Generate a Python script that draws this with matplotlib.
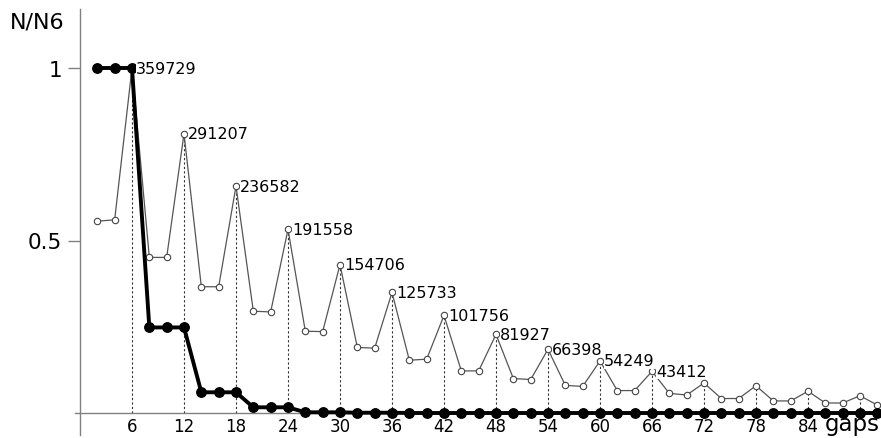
import matplotlib
matplotlib.use("Agg")
import matplotlib.pyplot as plt

plt.rcParams['font.family'] = ['DejaVu Sans']

gaps = [2, 4, 6, 8, 10, 12, 14, 16, 18, 20, 22, 24, 26, 28, 30, 32, 34, 36, 38, 40,
        42, 44, 46, 48, 50, 52, 54, 56, 58, 60, 62, 64, 66, 68, 70, 72, 74, 76, 78, 80,
        82, 84, 86, 88, 90, 92]

thin_ratio = [0.556, 0.560, 1.0, 0.451, 0.451, 0.8095, 0.366, 0.366, 0.6577, 0.295,
              0.293, 0.5325, 0.237, 0.236, 0.4301, 0.190, 0.188, 0.3495, 0.153, 0.156,
              0.2829, 0.122, 0.122, 0.2277, 0.100, 0.097, 0.1846, 0.080, 0.077, 0.1508,
              0.065, 0.065, 0.1207, 0.057, 0.052, 0.087, 0.042, 0.042, 0.079, 0.035,
              0.035, 0.063, 0.029, 0.029, 0.050, 0.023]

thick_ratio = [1.0, 1.0, 1.0, 0.248, 0.248, 0.248, 0.060, 0.060, 0.060, 0.0165,
               0.0165, 0.0165, 0.002, 0.002, 0.002, 0.0008, 0.0008, 0.0008, 0.0, 0.0,
               0.0, 0.0, 0.0, 0.0, 0.0, 0.0, 0.0, 0.0, 0.0, 0.0,
               0.0, 0.0, 0.0, 0.0, 0.0, 0.0, 0.0, 0.0, 0.0, 0.0,
               0.0, 0.0, 0.0, 0.0, 0.0, 0.0]

peak_gaps = [6, 12, 18, 24, 30, 36, 42, 48, 54, 60, 66]
peak_labels = ["359729", "291207", "236582", "191558", "154706", "125733",
               "101756", "81927", "66398", "54249", "43412"]

xtick_vals = [6, 12, 18, 24, 30, 36, 42, 48, 54, 60, 66, 72, 78, 84]
ytick_vals = [0.5, 1]
ytick_labels = ["0.5", "1"]

W, H = 881, 439
fig = plt.figure(figsize=(W / 100, H / 100), dpi=100)
ax = fig.add_axes([80 / W, (H - 414) / H, (W - 80) / W, (414 - 10) / H])
ax.set_xlim(0, 801 / (676 / 78))
ax.set_ylim(0, 404 / 345)
for s in ax.spines.values():
    s.set_visible(False)

axis_col = '#808080'
# axes lines
ax.plot([-0.6, 92.5], [0, 0], color=axis_col, lw=1.0, clip_on=False, zorder=1)
ax.plot([0, 0], [-0.064, 404 / 345], color=axis_col, lw=1.0, clip_on=False, zorder=1)

# dotted verticals at multiples of 6
v_x = [g for g in gaps if g % 6 == 0]
v_y = [thin_ratio[gaps.index(g)] for g in v_x]
ax.vlines(v_x, 0, v_y, colors='#333333', linestyles=(0, (2.0, 2.0)), lw=0.8, zorder=2)

# thin series
ax.plot(gaps, thin_ratio, color='#555555', lw=0.9, marker='o', markersize=4.6,
        markerfacecolor='white', markeredgecolor='#444444', markeredgewidth=0.8,
        zorder=3, clip_on=False)

# thick series
ax.plot(gaps, thick_ratio, color='black', lw=2.8, marker='o', markersize=6.8,
        markerfacecolor='black', markeredgecolor='black', zorder=4, clip_on=False)

# peak labels
for g, lab in zip(peak_gaps, peak_labels):
    y = thin_ratio[gaps.index(g)]
    ax.annotate(lab, (g, y), xytext=(3, 0), textcoords='offset points',
                ha='left', va='center', fontsize=11.5, color='black', zorder=5,
                bbox=dict(facecolor='white', edgecolor='none', pad=0.3))

# ticks
ax.set_xticks(xtick_vals)
ax.set_xticklabels([str(v) for v in xtick_vals], fontsize=12)
ax.tick_params(axis='x', length=0, pad=3)
ax.set_yticks(ytick_vals)
ax.set_yticklabels(ytick_labels, fontsize=15.5)
ax.tick_params(axis='y', length=9, width=1, color=axis_col, pad=4)

fig.text(10 / W, 1 - 23 / H, "N/N6", fontsize=16, ha='left', va='center')
fig.text(880 / W, 1 - 431 / H, "gaps", fontsize=16.5, ha='right', va='baseline')

fig.savefig("out.png", dpi=100)
